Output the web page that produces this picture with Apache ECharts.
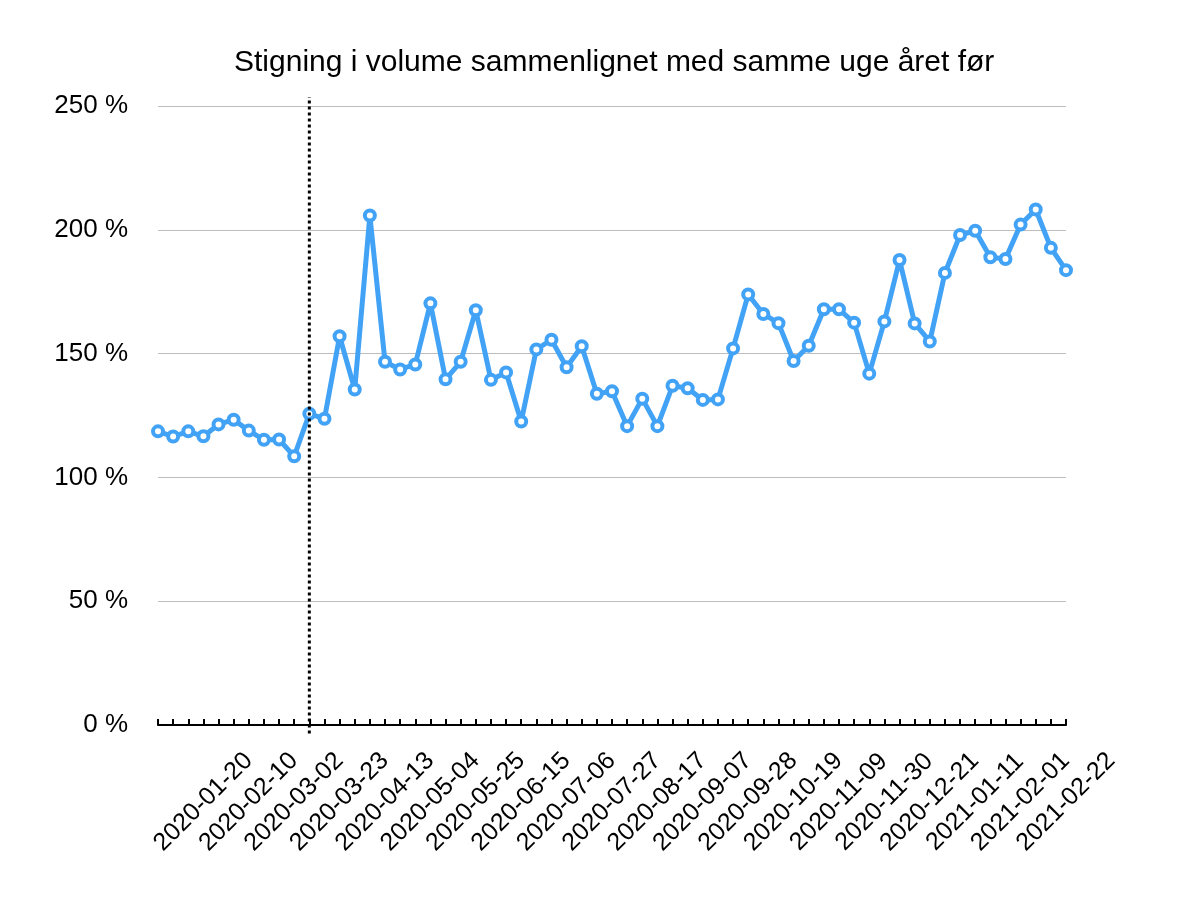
<!--
    Stigning i volume (uge for uge)
-->
<meta charset="UTF-8">
<script src="https://cdn.jsdelivr.net/npm/echarts@6/dist/echarts.min.js"></script>
<style>
    html, body {margin: 0; padding: 0; background: #ffffff;}
</style>
<div id="volumechart" style="width:1178px;height:918px;"></div>

<script>
    /*uger (mandag)*/
    var weeks = [
        '2019-12-30', '2020-01-06', '2020-01-13', '2020-01-20', '2020-01-27', '2020-02-03', '2020-02-10',
        '2020-02-17', '2020-02-24', '2020-03-02', '2020-03-09', '2020-03-16', '2020-03-23', '2020-03-30',
        '2020-04-06', '2020-04-13', '2020-04-20', '2020-04-27', '2020-05-04', '2020-05-11', '2020-05-18',
        '2020-05-25', '2020-06-01', '2020-06-08', '2020-06-15', '2020-06-22', '2020-06-29', '2020-07-06',
        '2020-07-13', '2020-07-20', '2020-07-27', '2020-08-03', '2020-08-10', '2020-08-17', '2020-08-24',
        '2020-08-31', '2020-09-07', '2020-09-14', '2020-09-21', '2020-09-28', '2020-10-05', '2020-10-12',
        '2020-10-19', '2020-10-26', '2020-11-02', '2020-11-09', '2020-11-16', '2020-11-23', '2020-11-30',
        '2020-12-07', '2020-12-14', '2020-12-21', '2020-12-28', '2021-01-04', '2021-01-11', '2021-01-18',
        '2021-01-25', '2021-02-01', '2021-02-08', '2021-02-15', '2021-02-22'
    ];

    /*stigning i procent*/
    var increase = [
        118.6, 116.5, 118.6, 116.6, 121.4, 123.3, 118.9, 115.2, 115.3, 108.5,
        125.7, 123.7, 157.0, 135.5, 205.8, 146.7, 143.6, 145.6, 170.3, 139.6,
        146.7, 167.5, 139.4, 142.4, 122.6, 151.7, 155.6, 144.5, 153.0, 133.8,
        134.8, 120.7, 131.8, 120.7, 137.0, 136.0, 131.3, 131.5, 152.1, 173.9,
        166.0, 162.3, 147.0, 153.2, 167.9, 167.9, 162.5, 141.9, 163.0, 187.8,
        162.2, 154.9, 182.6, 197.9, 199.6, 188.9, 188.2, 202.1, 208.2, 192.7,
        183.7
    ];

    /*y-akse*/
    var yTicks = [0, 50, 100, 150, 200, 250];

    /*lodret stiplet linje (nedlukning)*/
    var markerWeek = '2020-03-09';
    var markerRange = [-3.4, 253.6];

    var font = '"Liberation Sans", Helvetica, Arial, sans-serif';

    var chart = function () {
        var volumeChart = echarts.init(document.getElementById('volumechart'));
        var volumeOption = {
            backgroundColor: '#ffffff',
            animation: false,
            title: {
                text: 'Stigning i volume sammenlignet med samme uge året før',
                left: 229,
                top: 43,
                textStyle: {
                    fontFamily: font,
                    fontSize: 30,
                    fontWeight: 'normal',
                    color: '#000000'
                }
            },
            grid: {
                left: 158,
                right: 112,
                top: 106,
                bottom: 193
            },
            xAxis: {
                type: 'category',
                boundaryGap: false,
                data: weeks,
                axisLine: {
                    lineStyle: {color: '#000000', width: 2}
                },
                axisTick: {
                    inside: true,
                    length: 6,
                    interval: 0,
                    lineStyle: {color: '#000000', width: 2}
                },
                axisLabel: {
                    interval: function (index) {
                        return index > 0 && index % 3 === 0;
                    },
                    rotate: 45,
                    align: 'center',
                    verticalAlign: 'middle',
                    margin: 77,
                    fontFamily: font,
                    fontSize: 25,
                    color: '#000000'
                },
                splitLine: {show: false}
            },
            yAxis: {
                type: 'value',
                min: yTicks[0],
                max: yTicks[yTicks.length - 1],
                interval: 50,
                axisLine: {show: false},
                axisTick: {show: false},
                axisLabel: {
                    formatter: '{value} %',
                    margin: 30,
                    fontFamily: font,
                    fontSize: 26,
                    color: '#000000'
                },
                splitLine: {
                    lineStyle: {color: '#bdbdbd', width: 1}
                }
            },
            series: [{
                name: 'Stigning',
                type: 'line',
                data: increase,
                clip: false,
                symbol: 'circle',
                symbolSize: 10,
                showAllSymbol: true,
                itemStyle: {
                    color: '#ffffff',
                    borderColor: '#42a3f6',
                    borderWidth: 4
                },
                lineStyle: {
                    color: '#42a3f6',
                    width: 5
                },
                z: 3
            }, {
                /*stiplet markering*/
                name: 'Markering',
                type: 'line',
                data: [[markerWeek, markerRange[0]], [markerWeek, markerRange[1]]],
                clip: false,
                silent: true,
                symbol: 'none',
                lineStyle: {
                    color: '#000000',
                    width: 3,
                    type: [3, 3]
                },
                z: 4
            }]
        };
        volumeChart.setOption(volumeOption);

        window.addEventListener("resize", function () {
            volumeChart.resize();
        });
    };

    chart();
</script>
